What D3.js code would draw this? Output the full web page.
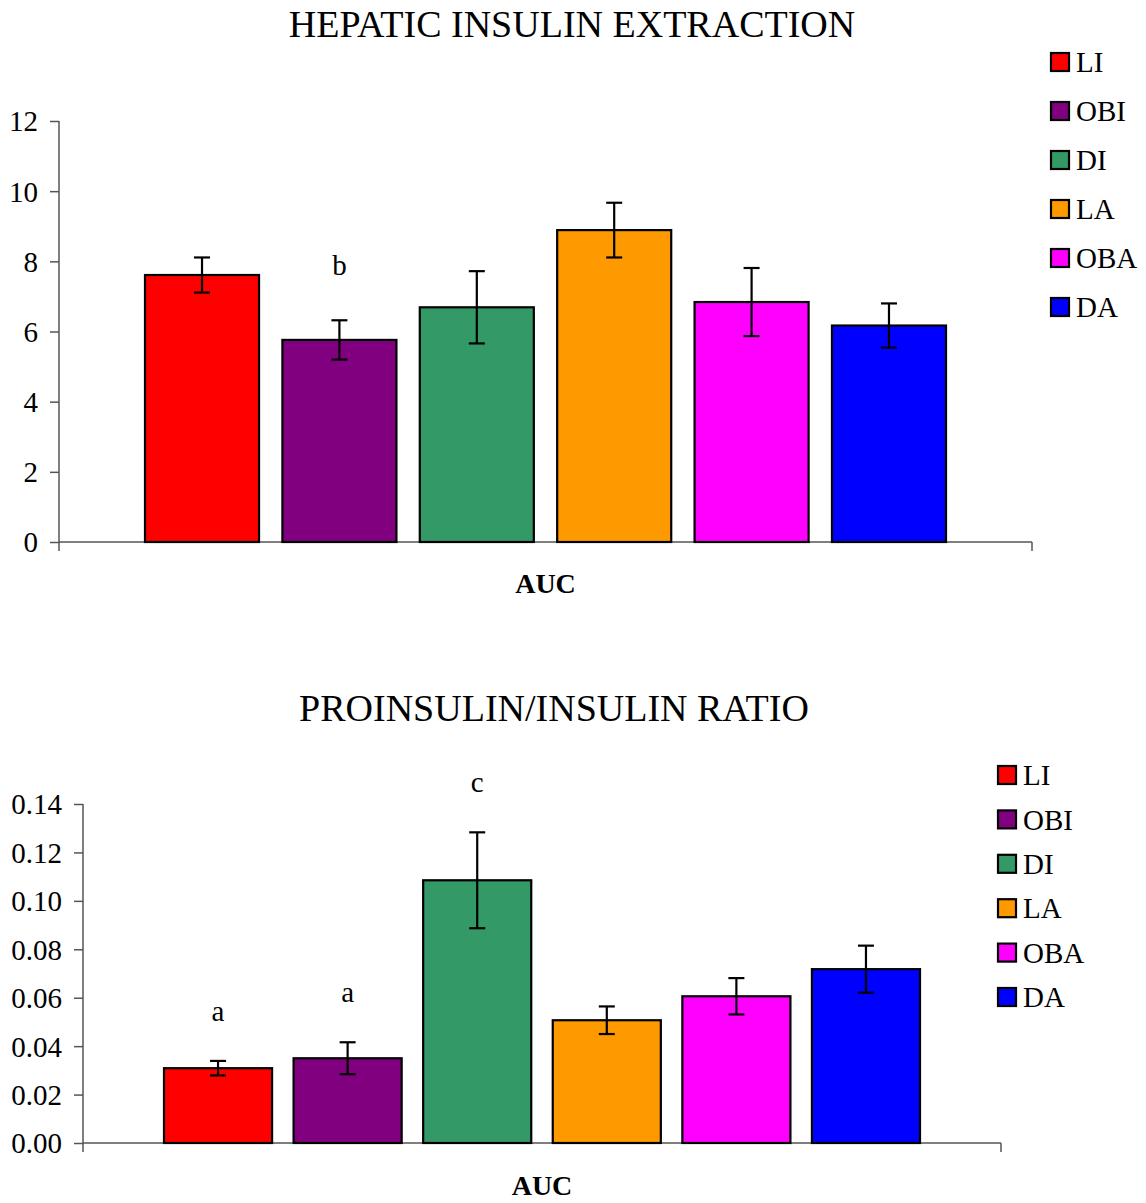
<!DOCTYPE html>
<html>
<head>
<meta charset="utf-8">
<script src="https://cdn.jsdelivr.net/npm/d3@7"></script>
<style>
  html, body { margin: 0; padding: 0; background: #fff; }
  svg text { font-family: "Liberation Serif", "Times New Roman", serif; fill: #000; }
</style>
</head>
<body>
<svg id="chart" width="1146" height="1203" font-family="Liberation Serif, Times New Roman, serif"></svg>
<script>
// Groups and their fill colours
const groups = ["LI", "OBI", "DI", "LA", "OBA", "DA"];
const colors = ["#ff0000", "#800080", "#339966", "#ff9900", "#ff00ff", "#0000ff"];

// Hepatic insulin extraction (AUC): means and error bars
const hieMean = [7.61, 5.76, 6.69, 8.89, 6.84, 6.17];
const hieErr  = [0.50, 0.56, 1.03, 0.78, 0.97, 0.63];
const hieMarks = ["", "b", "", "", "", ""];
const hieTicks = [0, 2, 4, 6, 8, 10, 12];

// Proinsulin/insulin ratio (AUC): means and error bars
const pirMean = [0.0309, 0.0350, 0.1085, 0.0507, 0.0606, 0.0718];
const pirErr  = [0.0030, 0.0066, 0.0198, 0.0057, 0.0075, 0.0097];
const pirMarks = ["a", "a", "c", "", "", ""];
const pirTicks = [0, 0.02, 0.04, 0.06, 0.08, 0.10, 0.12, 0.14];

const FONT = '"Liberation Serif", "Times New Roman", serif';
const svg = d3.select("#chart");

function drawPanel(cfg) {
  const g = svg.append("g");
  const y = d3.scaleLinear().domain(cfg.domain).range([cfg.y0, cfg.y1]);
  const x = d3.scaleBand().domain(groups)
    .range([cfg.barsL, cfg.barsR])
    .paddingInner(cfg.padInner).paddingOuter(0);

  // title
  g.append("text")
    .attr("x", cfg.titleX).attr("y", cfg.titleY)
    .attr("text-anchor", "middle")
    .style("font-family", FONT)
    .style("font-size", "38px")
    .text(cfg.title);

  // y axis
  const yAxis = d3.axisLeft(y).tickValues(cfg.ticks).tickFormat(cfg.fmt)
    .tickSize(9).tickPadding(12);
  const ya = g.append("g").attr("transform", `translate(${cfg.x0},0)`).call(yAxis);
  ya.attr("font-family", null).attr("font-size", null);
  ya.select(".domain").remove();
  ya.selectAll(".tick line").attr("stroke", "#555").attr("stroke-width", 1.5);
  ya.selectAll(".tick text")
    .style("font-family", FONT)
    .style("font-size", cfg.tickSize + "px")
    .attr("dy", "0.34em");

  g.append("line")
    .attr("x1", cfg.x0).attr("x2", cfg.x0)
    .attr("y1", y(cfg.domain[1])).attr("y2", cfg.y0 + 9)
    .attr("stroke", "#555").attr("stroke-width", 1.5);
  // x axis baseline with end tick
  g.append("line")
    .attr("x1", cfg.x0).attr("x2", cfg.x1)
    .attr("y1", cfg.y0).attr("y2", cfg.y0)
    .attr("stroke", "#555").attr("stroke-width", 1.5);
  g.append("line")
    .attr("x1", cfg.x1).attr("x2", cfg.x1)
    .attr("y1", cfg.y0).attr("y2", cfg.y0 + 9)
    .attr("stroke", "#555").attr("stroke-width", 1.5);

  // bars
  g.selectAll("rect.bar").data(groups).enter().append("rect")
    .attr("class", "bar")
    .attr("x", d => x(d))
    .attr("width", x.bandwidth())
    .attr("y", (d, i) => y(cfg.mean[i]))
    .attr("height", (d, i) => y(0) - y(cfg.mean[i]))
    .attr("fill", (d, i) => colors[i])
    .attr("stroke", "#000").attr("stroke-width", 2.2);

  // error bars
  const eb = g.selectAll("g.err").data(groups).enter().append("g").attr("class", "err");
  const cx = d => x(d) + x.bandwidth() / 2;
  eb.append("line")
    .attr("x1", cx).attr("x2", cx)
    .attr("y1", (d, i) => y(cfg.mean[i] + cfg.err[i]))
    .attr("y2", (d, i) => y(cfg.mean[i] - cfg.err[i]))
    .attr("stroke", "#000").attr("stroke-width", 2.2);
  [1, -1].forEach(s => {
    eb.append("line")
      .attr("x1", d => cx(d) - 8).attr("x2", d => cx(d) + 8)
      .attr("y1", (d, i) => y(cfg.mean[i] + s * cfg.err[i]))
      .attr("y2", (d, i) => y(cfg.mean[i] + s * cfg.err[i]))
      .attr("stroke", "#000").attr("stroke-width", 2.2);
  });

  // significance letters
  g.selectAll("text.mark").data(groups).enter().append("text")
    .attr("class", "mark")
    .attr("x", cx)
    .attr("y", (d, i) => y(cfg.mean[i] + cfg.err[i]) - cfg.markGap)
    .attr("text-anchor", "middle")
    .style("font-family", FONT)
    .style("font-size", "29px")
    .text((d, i) => cfg.marks[i]);

  // category label
  g.append("text")
    .attr("x", (cfg.x0 + cfg.x1) / 2).attr("y", cfg.catY)
    .attr("text-anchor", "middle")
    .style("font-family", FONT)
    .style("font-size", "28px").style("font-weight", "bold")
    .text("AUC");

  // legend
  const lg = g.selectAll("g.leg").data(groups).enter().append("g").attr("class", "leg")
    .attr("transform", (d, i) => `translate(${cfg.legX},${cfg.legY + i * cfg.legStep})`);
  lg.append("rect")
    .attr("x", 0).attr("y", -9).attr("width", 18).attr("height", 18)
    .attr("fill", (d, i) => colors[i])
    .attr("stroke", "#000").attr("stroke-width", 2.2);
  lg.append("text")
    .attr("x", 25).attr("y", 0).attr("dy", "0.35em")
    .style("font-family", FONT)
    .style("font-size", "29px")
    .text(d => d);
}

drawPanel({
  title: "HEPATIC INSULIN EXTRACTION", titleX: 572, titleY: 37,
  domain: [0, 12], y0: 542, y1: 121, x0: 59, x1: 1032, barsL: 145, barsR: 946, padInner: 0.17,
  ticks: hieTicks, fmt: d3.format("d"), tickSize: 29,
  mean: hieMean, err: hieErr, marks: hieMarks, markGap: 45,
  catY: 593, legX: 1051, legY: 62, legStep: 49
});

drawPanel({
  title: "PROINSULIN/INSULIN RATIO", titleX: 554, titleY: 721,
  domain: [0, 0.14], y0: 1143, y1: 804, x0: 83, x1: 1001, barsL: 164, barsR: 920, padInner: 0.166,
  ticks: pirTicks, fmt: d3.format(".2f"), tickSize: 29,
  mean: pirMean, err: pirErr, marks: pirMarks, markGap: 40,
  catY: 1195, legX: 998, legY: 775, legStep: 44.4
});
</script>
</body>
</html>
